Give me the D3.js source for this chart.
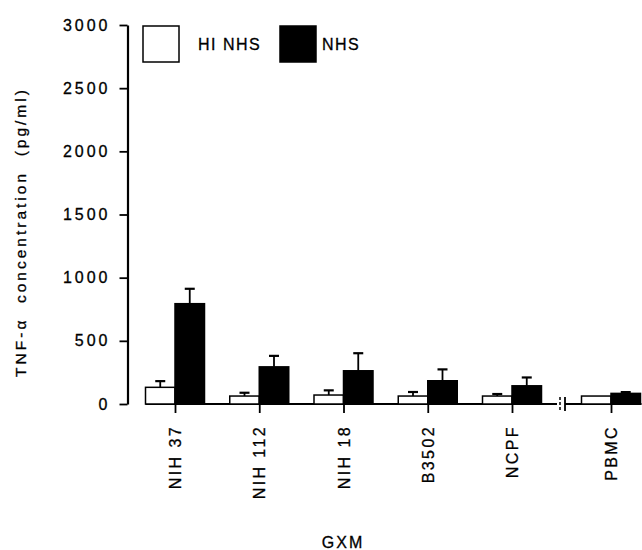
<!DOCTYPE html>
<html>
<head>
<meta charset="utf-8">
<script src="https://cdn.jsdelivr.net/npm/d3@7"></script>
<style>
  html, body { margin: 0; padding: 0; background: #fff; }
  svg { display: block; }
  text { font-family: "Liberation Sans", Arial, sans-serif; fill: #000; stroke: #000; stroke-width: 0.3px; }
</style>
</head>
<body>
<svg id="chart" width="642" height="550"></svg>
<script>
// ---- data ----
const categories = ["NIH 37", "NIH 112", "NIH 18", "B3502", "NCPF", "PBMC"];
const hiNHS      = [132, 63, 71, 63, 63, 63];
const hiNHSErr   = [49, 26, 37, 32, 16, 0];
const nhs        = [794, 294, 263, 184, 144, 84];
const nhsErr     = [118, 87, 139, 90, 66, 10];
const yTicks     = [0, 500, 1000, 1500, 2000, 2500, 3000];
const seriesNames = ["HI NHS", "NHS"];
const yTitle = "TNF-\u03b1  concentration  (pg/ml)";
const xTitle = "GXM";

// ---- layout ----
const svg = d3.select("#chart");
const y = d3.scaleLinear().domain([0, 3000]).range([404, 25]);
// broken axis: first five categories evenly spaced, PBMC after the break
const x = d3.scaleLinear().domain([0, 4, 5]).range([175, 512, 611]);
const barW = 29.5;
const capW = 10;

// Y axis
const yAxis = d3.axisLeft(y).tickValues(yTicks).tickFormat(d3.format("d"))
  .tickSize(8).tickSizeOuter(0).tickPadding(9);
const gy = svg.append("g").attr("transform", "translate(127.5,0)").call(yAxis);
gy.select(".domain").attr("stroke", "#000").attr("stroke-width", 2.2);
gy.selectAll(".tick line").attr("stroke", "#000").attr("stroke-width", 1.8);
gy.selectAll(".tick text")
  .attr("font-size", 16).attr("letter-spacing", "3px")
  .attr("font-family", "Liberation Sans, Arial, sans-serif").attr("fill", "#000");

// Y title
svg.append("text")
  .attr("transform", `translate(26,232) rotate(-90)`)
  .attr("text-anchor", "middle")
  .attr("font-size", 15.5).attr("letter-spacing", "3px")
  .style("white-space", "pre")
  .text(yTitle);

// X axis ticks and labels
const idx = d3.range(categories.length);
const xAxis = d3.axisBottom(x).tickValues(idx).tickFormat(i => categories[i]).tickSize(9).tickSizeOuter(0);
const gx = svg.append("g").attr("transform", `translate(0,${y(0)})`).call(xAxis);
gx.select(".domain").remove();
gx.selectAll(".tick line").attr("stroke", "#000").attr("stroke-width", 1.8);
gx.selectAll(".tick text")
  .attr("transform", "rotate(-90)")
  .attr("x", -21).attr("y", 0).attr("dy", "0.35em")
  .attr("text-anchor", "end")
  .attr("font-size", 16).attr("letter-spacing", "2.4px")
  .attr("font-family", "Liberation Sans, Arial, sans-serif").attr("fill", "#000");

// baseline with break
const y0 = y(0);
const brk = (x(4) + x(5)) / 2 - 1.5;
const segs = [[x(0) - barW, brk - 3], [brk + 5, x(5) + barW + 1]];
svg.selectAll("line.base").data(segs).enter().append("line")
  .attr("class", "base")
  .attr("x1", d => d[0]).attr("x2", d => d[1])
  .attr("y1", y0).attr("y2", y0)
  .attr("stroke", "#000").attr("stroke-width", 2.2);
svg.append("line").attr("x1", brk).attr("x2", brk).attr("y1", y0 - 7).attr("y2", y0 + 6)
  .attr("stroke", "#000").attr("stroke-width", 1.5).attr("stroke-dasharray", "3,2");
svg.append("line").attr("x1", brk + 5).attr("x2", brk + 5).attr("y1", y0 - 7).attr("y2", y0 + 7)
  .attr("stroke", "#000").attr("stroke-width", 1.8);

// bars
const series = [
  { name: seriesNames[0], vals: hiNHS, errs: hiNHSErr, fill: "#fff", off: -barW },
  { name: seriesNames[1], vals: nhs,   errs: nhsErr,   fill: "#000", off: 0 }
];
series.forEach(s => {
  const g = svg.append("g");
  g.selectAll("line.stem").data(idx.filter(i => s.errs[i] > 0)).enter().append("line")
    .attr("x1", i => x(i) + s.off + barW / 2).attr("x2", i => x(i) + s.off + barW / 2)
    .attr("y1", i => y(s.vals[i])).attr("y2", i => y(s.vals[i] + s.errs[i]))
    .attr("stroke", "#000").attr("stroke-width", 1.8);
  g.selectAll("line.cap").data(idx.filter(i => s.errs[i] > 0)).enter().append("line")
    .attr("x1", i => x(i) + s.off + barW / 2 - capW / 2).attr("x2", i => x(i) + s.off + barW / 2 + capW / 2)
    .attr("y1", i => y(s.vals[i] + s.errs[i])).attr("y2", i => y(s.vals[i] + s.errs[i]))
    .attr("stroke", "#000").attr("stroke-width", 2.2);
  g.selectAll("rect").data(idx).enter().append("rect")
    .attr("x", i => x(i) + s.off)
    .attr("y", i => y(s.vals[i]))
    .attr("width", barW)
    .attr("height", i => y(0) - y(s.vals[i]))
    .attr("fill", s.fill).attr("stroke", "#000").attr("stroke-width", 1.5);
});

// legend
const legend = svg.append("g");
const legX = [143, 280];
series.forEach((s, k) => {
  legend.append("rect").attr("x", legX[k]).attr("y", 26).attr("width", 36).attr("height", 36)
    .attr("fill", s.fill).attr("stroke", "#000").attr("stroke-width", 1.5);
  legend.append("text").attr("x", legX[k] + 36 + (k === 0 ? 19 : 6)).attr("y", 50)
    .attr("font-size", 16).attr("letter-spacing", "1.5px")
    .text(s.name);
});

// x title
svg.append("text").attr("x", 343).attr("y", 548).attr("text-anchor", "middle")
  .attr("font-size", 16).attr("letter-spacing", "2px").text(xTitle);
</script>
</body>
</html>
